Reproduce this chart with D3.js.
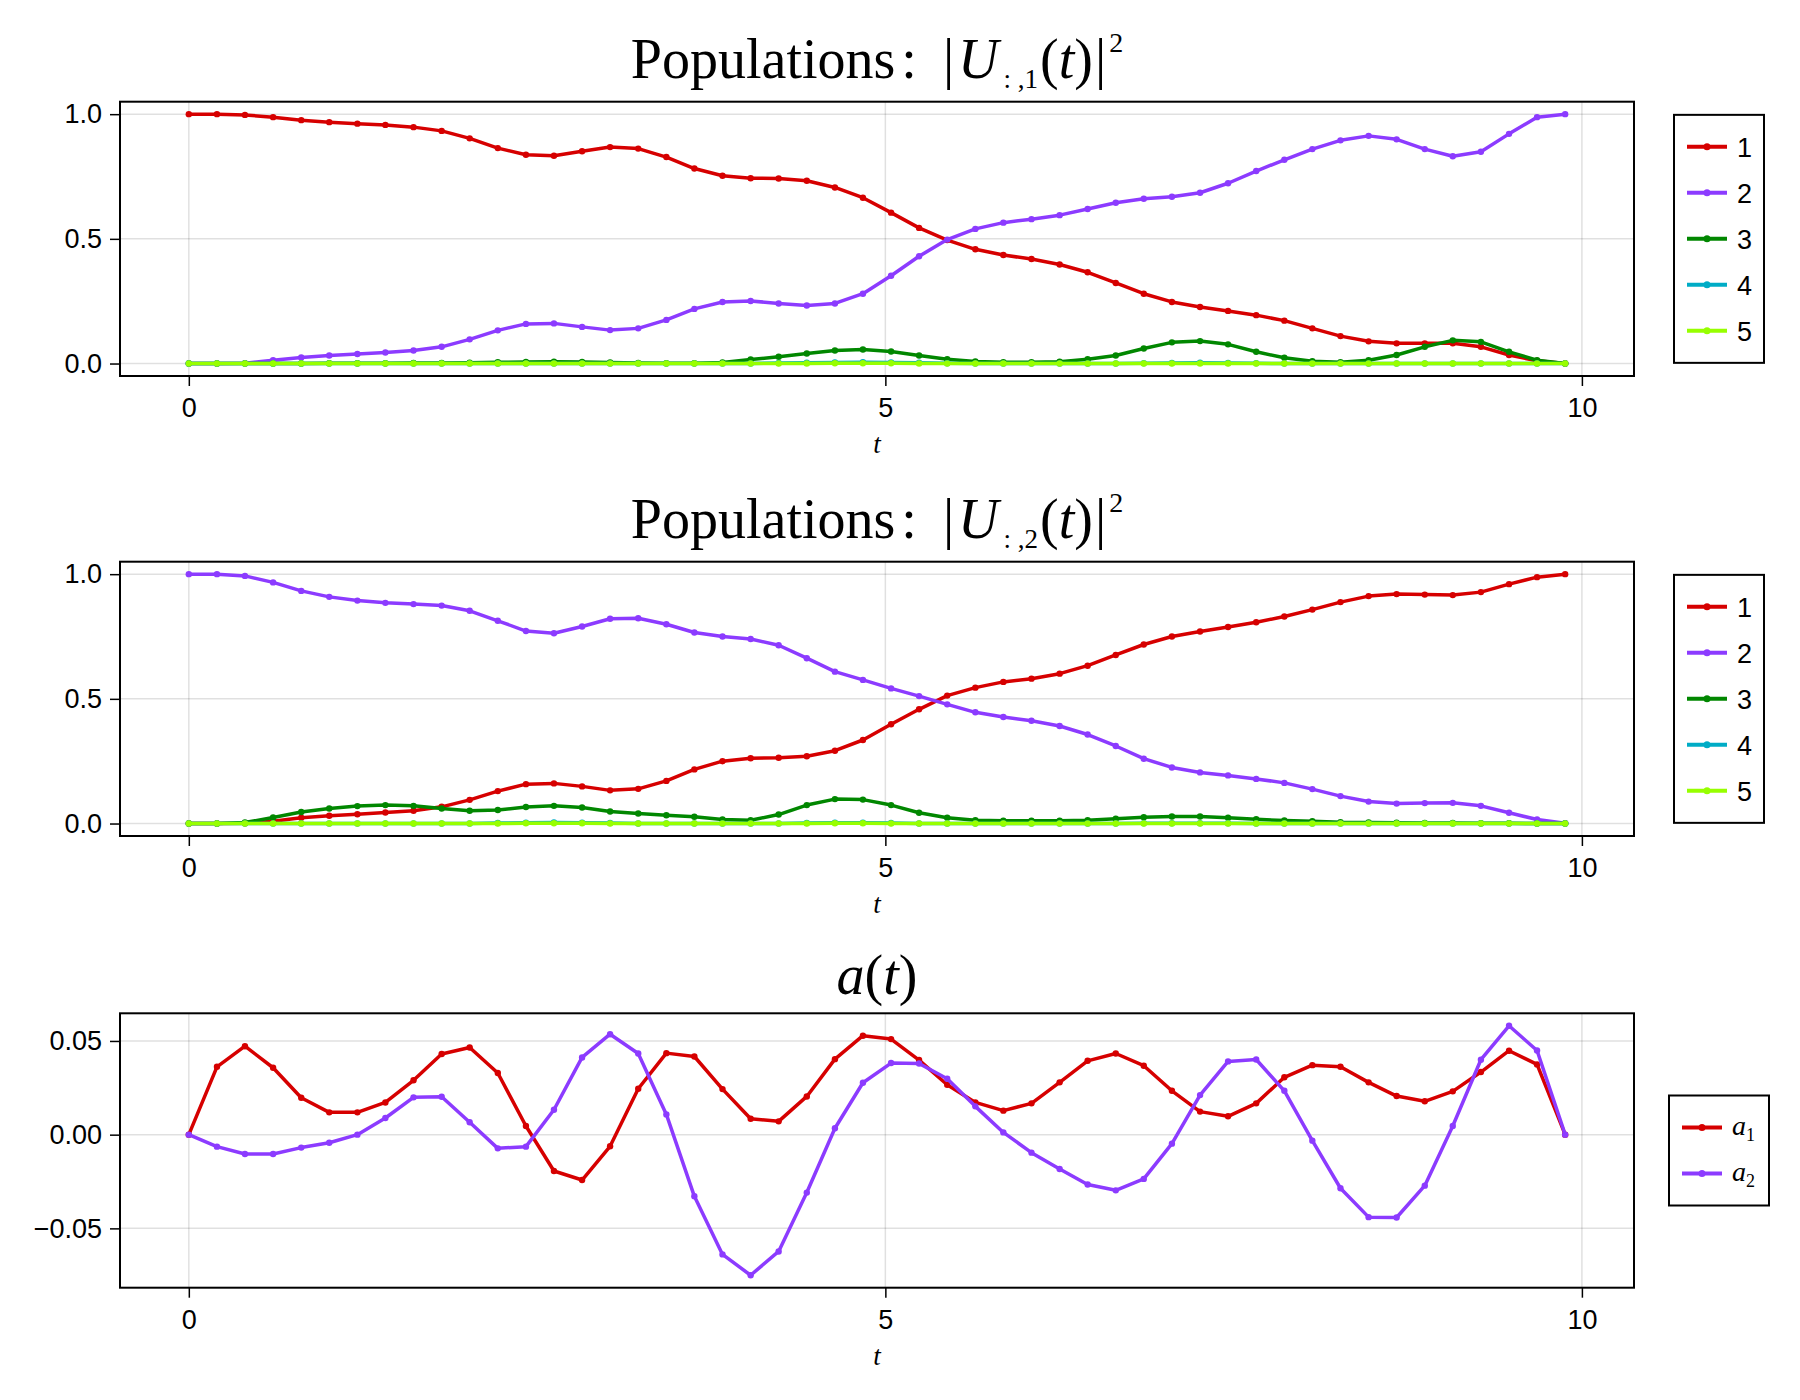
<!DOCTYPE html>
<html>
<head>
<meta charset="utf-8">
<script src="https://cdn.jsdelivr.net/npm/d3@7"></script>
<style>
  body { margin: 0; background: #fff; }
  svg { display: block; }
</style>
</head>
<body>
<div id="chart"></div>
<script>
// time grid (50 samples)
var tGrid = [0, 0.202, 0.403, 0.605, 0.807, 1.008, 1.210, 1.411, 1.613, 1.815,
  2.016, 2.218, 2.420, 2.621, 2.823, 3.024, 3.226, 3.428, 3.629, 3.831,
  4.033, 4.234, 4.436, 4.638, 4.839, 5.041, 5.242, 5.444, 5.646, 5.847,
  6.049, 6.251, 6.452, 6.654, 6.855, 7.057, 7.259, 7.460, 7.662, 7.864,
  8.065, 8.267, 8.469, 8.670, 8.872, 9.073, 9.275, 9.477, 9.678, 9.880];

// populations |U_{:,1}(t)|^2
var u1Pop1 = [1.0, 1.0, 0.997, 0.988, 0.976, 0.968, 0.962, 0.957, 0.948, 0.933,
  0.903, 0.864, 0.837, 0.833, 0.851, 0.868, 0.862, 0.828, 0.782, 0.753,
  0.743, 0.742, 0.733, 0.706, 0.665, 0.605, 0.544, 0.495, 0.458, 0.435,
  0.419, 0.397, 0.366, 0.323, 0.280, 0.247, 0.227, 0.211, 0.194, 0.172,
  0.141, 0.110, 0.089, 0.081, 0.081, 0.081, 0.067, 0.034, 0.011, 0.0];
var u1Pop2 = [0, 0, 0.001, 0.013, 0.024, 0.032, 0.038, 0.044, 0.052, 0.067,
  0.097, 0.133, 0.159, 0.161, 0.147, 0.134, 0.141, 0.175, 0.219, 0.247,
  0.251, 0.241, 0.233, 0.241, 0.280, 0.352, 0.430, 0.497, 0.540, 0.565,
  0.579, 0.595, 0.620, 0.645, 0.661, 0.669, 0.685, 0.723, 0.772, 0.817,
  0.860, 0.895, 0.913, 0.899, 0.860, 0.831, 0.849, 0.921, 0.988, 1.0];
var u1Pop3 = [0, 0, 0, 0, 0, 0.001, 0.001, 0.001, 0.002, 0.002,
  0.003, 0.005, 0.006, 0.007, 0.006, 0.004, 0.002, 0.001, 0.001, 0.004,
  0.016, 0.027, 0.040, 0.052, 0.056, 0.048, 0.032, 0.017, 0.008, 0.005,
  0.005, 0.007, 0.017, 0.032, 0.060, 0.085, 0.090, 0.077, 0.047, 0.023,
  0.009, 0.005, 0.013, 0.034, 0.067, 0.093, 0.087, 0.047, 0.013, 0];
var u1Pop4 = [0, 0, 0, 0, 0, 0, 0, 0, 0, 0,
  0, 0, 0, 0, 0, 0, 0, 0, 0, 0,
  0, 0.002, 0.003, 0.004, 0.005, 0.004, 0.003, 0.001, 0, 0,
  0, 0, 0, 0, 0.001, 0.002, 0.003, 0.002, 0.001, 0,
  0, 0, 0, 0, 0, 0, 0, 0, 0, 0];
var u1Pop5 = [0, 0, 0, 0, 0, 0, 0, 0, 0, 0,
  0, 0, 0, 0, 0, 0, 0, 0, 0, 0,
  0, 0, 0, 0.001, 0.001, 0.001, 0, 0, 0, 0,
  0, 0, 0, 0, 0, 0, 0, 0, 0, 0,
  0, 0, 0, 0, 0, 0, 0, 0, 0, 0];

// populations |U_{:,2}(t)|^2
var u2Pop1 = [0, 0, 0.001, 0.009, 0.023, 0.031, 0.037, 0.044, 0.051, 0.067,
  0.095, 0.130, 0.158, 0.161, 0.149, 0.133, 0.139, 0.171, 0.217, 0.250,
  0.262, 0.264, 0.270, 0.292, 0.335, 0.398, 0.458, 0.513, 0.545, 0.568,
  0.581, 0.601, 0.633, 0.676, 0.718, 0.750, 0.770, 0.788, 0.807, 0.830,
  0.858, 0.888, 0.912, 0.920, 0.918, 0.916, 0.928, 0.960, 0.988, 1.0];
var u2Pop2 = [1.0, 1.0, 0.993, 0.967, 0.933, 0.909, 0.894, 0.885, 0.880, 0.874,
  0.853, 0.813, 0.772, 0.763, 0.790, 0.821, 0.823, 0.799, 0.766, 0.750,
  0.740, 0.715, 0.663, 0.609, 0.576, 0.542, 0.511, 0.478, 0.446, 0.427,
  0.412, 0.391, 0.357, 0.311, 0.260, 0.225, 0.205, 0.193, 0.179, 0.163,
  0.138, 0.110, 0.088, 0.080, 0.082, 0.083, 0.071, 0.043, 0.016, 0.001];
var u2Pop3 = [0, 0, 0.004, 0.024, 0.046, 0.060, 0.070, 0.074, 0.071, 0.060,
  0.051, 0.054, 0.066, 0.071, 0.064, 0.048, 0.040, 0.033, 0.027, 0.016,
  0.013, 0.036, 0.074, 0.098, 0.096, 0.074, 0.043, 0.023, 0.013, 0.011,
  0.011, 0.011, 0.013, 0.019, 0.025, 0.028, 0.028, 0.023, 0.017, 0.012,
  0.009, 0.005, 0.004, 0.003, 0.002, 0.002, 0.001, 0.001, 0, 0];
var u2Pop4 = [0, 0, 0, 0, 0, 0, 0, 0, 0, 0,
  0, 0.002, 0.003, 0.004, 0.003, 0.002, 0, 0, 0, 0,
  0, 0, 0.002, 0.003, 0.003, 0.002, 0, 0, 0, 0,
  0, 0, 0, 0, 0.001, 0.001, 0.001, 0.001, 0, 0,
  0, 0, 0, 0, 0, 0, 0, 0, 0, 0];
var u2Pop5 = [0, 0, 0, 0, 0, 0, 0, 0, 0, 0,
  0, 0, 0.001, 0.001, 0.001, 0, 0, 0, 0, 0,
  0, 0, 0, 0.001, 0.001, 0, 0, 0, 0, 0,
  0, 0, 0, 0, 0, 0, 0, 0, 0, 0,
  0, 0, 0, 0, 0, 0, 0, 0, 0, 0];

// controls a(t)
var a1 = [0, 0.0362, 0.0472, 0.0357, 0.0197, 0.0119, 0.0119, 0.0172, 0.0290, 0.0430,
  0.0465, 0.0329, 0.0046, -0.0194, -0.0242, -0.0062, 0.0245, 0.0435, 0.0417, 0.0243,
  0.0085, 0.0071, 0.0204, 0.0403, 0.0528, 0.0510, 0.0398, 0.0266, 0.0172, 0.0128,
  0.0167, 0.0279, 0.0394, 0.0433, 0.0368, 0.0234, 0.0123, 0.0098, 0.0167, 0.0306,
  0.0371, 0.0362, 0.0279, 0.0206, 0.0178, 0.0231, 0.0334, 0.0448, 0.0375, 0];
var a2 = [0, -0.0064, -0.0103, -0.0103, -0.0069, -0.0043, 0.0, 0.0089, 0.0199, 0.0202,
  0.0066, -0.0073, -0.0064, 0.0133, 0.0412, 0.0536, 0.0433, 0.0108, -0.0329, -0.0639,
  -0.0750, -0.0623, -0.0309, 0.0034, 0.0277, 0.0382, 0.0380, 0.0298, 0.0151, 0.0012,
  -0.0096, -0.0183, -0.0266, -0.0297, -0.0236, -0.0048, 0.0211, 0.0391, 0.0401, 0.0234,
  -0.0032, -0.0286, -0.0440, -0.0442, -0.0272, 0.0046, 0.0400, 0.0581, 0.0449, 0];

var popLabels = ["1", "2", "3", "4", "5"];
var popTicks = [0, 0.5, 1.0];
var aTicks = [-0.05, 0, 0.05];
var tTicks = [0, 5, 10];
var colors = ["#d60000", "#8c3bff", "#018700", "#00acc6", "#97ff00"];

var W = 1800, H = 1400;
var left = 120, right = 1634;
var sansFont = "'Liberation Sans', Arial, sans-serif";
var serifFont = "'Liberation Serif', 'Times New Roman', serif";
var tickSize = "27px";

var svg = d3.select("#chart")
  .append("svg")
  .attr("width", W)
  .attr("height", H);

// x scale shared by all panels, 5% padding like the original
var tSpan = d3.max(tGrid) - d3.min(tGrid);
var x = d3.scaleLinear()
  .domain([d3.min(tGrid) - 0.05 * tSpan, d3.max(tGrid) + 0.05 * tSpan])
  .range([left, right]);

function drawPanel(top, bottom, series, yTicks, yFmt, legendNames, mathLegend) {
  var all = d3.merge(series);
  var lo = d3.min(all), hi = d3.max(all), pad = 0.05 * (hi - lo);
  var y = d3.scaleLinear().domain([lo - pad, hi + pad]).range([bottom, top]);

  var g = svg.append("g");

  // grid
  g.append("g").selectAll("line").data(yTicks).enter().append("line")
    .attr("x1", left).attr("x2", right)
    .attr("y1", d => y(d)).attr("y2", d => y(d))
    .attr("stroke", "#000").attr("stroke-opacity", 0.12).attr("stroke-width", 1.5);
  g.append("g").selectAll("line").data(tTicks).enter().append("line")
    .attr("y1", top).attr("y2", bottom)
    .attr("x1", d => x(d)).attr("x2", d => x(d))
    .attr("stroke", "#000").attr("stroke-opacity", 0.12).attr("stroke-width", 1.5);

  // axes
  var xAxis = g.append("g")
    .attr("transform", "translate(0," + bottom + ")")
    .call(d3.axisBottom(x).tickValues(tTicks).tickSize(10).tickPadding(12).tickFormat(d3.format("d")));
  var yAxis = g.append("g")
    .attr("transform", "translate(" + left + ",0)")
    .call(d3.axisLeft(y).tickValues(yTicks).tickSize(10).tickPadding(8).tickFormat(d3.format(yFmt)));
  [xAxis, yAxis].forEach(function (ax) {
    ax.select(".domain").remove();
    ax.selectAll("line").attr("stroke", "#000").attr("stroke-width", 1.5);
    ax.selectAll("text").attr("fill", "#000")
      .style("font-family", sansFont).style("font-size", tickSize);
  });

  // lines + markers
  var line = d3.line().x((d, i) => x(tGrid[i])).y(d => y(d));
  series.forEach(function (s, k) {
    g.append("path")
      .datum(s)
      .attr("d", line)
      .attr("fill", "none")
      .attr("stroke", colors[k])
      .attr("stroke-width", 3.5)
      .attr("stroke-linejoin", "round");
    g.append("g").selectAll("circle").data(s).enter().append("circle")
      .attr("cx", (d, i) => x(tGrid[i]))
      .attr("cy", d => y(d))
      .attr("r", 3.2)
      .attr("fill", colors[k]);
  });

  // frame
  g.append("rect")
    .attr("x", left).attr("y", top)
    .attr("width", right - left).attr("height", bottom - top)
    .attr("fill", "none").attr("stroke", "#000").attr("stroke-width", 2);

  // x label
  g.append("text")
    .attr("x", (left + right) / 2).attr("y", bottom + 77)
    .attr("text-anchor", "middle")
    .style("font-family", serifFont).style("font-style", "italic").style("font-size", "27px")
    .text("t");

  // legend
  var n = legendNames.length;
  var boxW = mathLegend ? 100 : 90;
  var boxH = 64 + 46 * (n - 1);
  var bx = mathLegend ? right + 35 : right + 40;
  var by = (top + bottom) / 2 - boxH / 2;
  var lg = g.append("g");
  lg.append("rect")
    .attr("x", bx).attr("y", by).attr("width", boxW).attr("height", boxH)
    .attr("fill", "#fff").attr("stroke", "#000").attr("stroke-width", 2);
  legendNames.forEach(function (name, k) {
    var ly = by + 32 + 46 * k;
    lg.append("line")
      .attr("x1", bx + 13).attr("x2", bx + 53)
      .attr("y1", ly).attr("y2", ly)
      .attr("stroke", colors[k]).attr("stroke-width", 4);
    lg.append("circle")
      .attr("cx", bx + 33).attr("cy", ly).attr("r", 3.5)
      .attr("fill", colors[k]);
    if (mathLegend) {
      var tx = lg.append("text")
        .attr("x", bx + 63).attr("y", ly + 7)
        .style("font-family", serifFont).style("font-size", "28px");
      tx.append("tspan").style("font-style", "italic").text(name[0]);
      tx.append("tspan").attr("dy", 6).style("font-size", "18px").text(name[1]);
    } else {
      lg.append("text")
        .attr("x", bx + 63).attr("y", ly + 9.7)
        .style("font-family", sansFont).style("font-size", tickSize)
        .text(name);
    }
  });
}

function popTitle(baseline, idx) {
  var t = svg.append("text")
    .attr("x", (left + right) / 2).attr("y", baseline)
    .attr("text-anchor", "middle")
    .style("font-family", serifFont).style("font-size", "56px");
  t.append("tspan").text("Populations");
  t.append("tspan").attr("dx", 6).text(":");
  t.append("tspan").attr("dx", 26).text("|");
  t.append("tspan").attr("dx", 4).style("font-style", "italic").text("U");
  t.append("tspan").attr("dx", 5).attr("dy", 10).style("font-size", "27px").text(": ," + idx);
  t.append("tspan").attr("dx", 2).attr("dy", -10).text("(");
  t.append("tspan").style("font-style", "italic").text("t");
  t.append("tspan").text(")");
  t.append("tspan").attr("dx", 2).text("|");
  t.append("tspan").attr("dx", 3).attr("dy", -26).style("font-size", "28px").text("2");
}

popTitle(78, "1");
drawPanel(101.7, 376, [u1Pop1, u1Pop2, u1Pop3, u1Pop4, u1Pop5], popTicks, ".1f", popLabels, false);

popTitle(538, "2");
drawPanel(561.7, 836, [u2Pop1, u2Pop2, u2Pop3, u2Pop4, u2Pop5], popTicks, ".1f", popLabels, false);

var at = svg.append("text")
  .attr("x", (left + right) / 2).attr("y", 994)
  .attr("text-anchor", "middle")
  .style("font-family", serifFont).style("font-size", "56px");
at.append("tspan").style("font-style", "italic").text("a");
at.append("tspan").text("(");
at.append("tspan").style("font-style", "italic").text("t");
at.append("tspan").text(")");
drawPanel(1013.3, 1287.7, [a1, a2], aTicks, ".2f", [["a", "1"], ["a", "2"]], true);
</script>
</body>
</html>
